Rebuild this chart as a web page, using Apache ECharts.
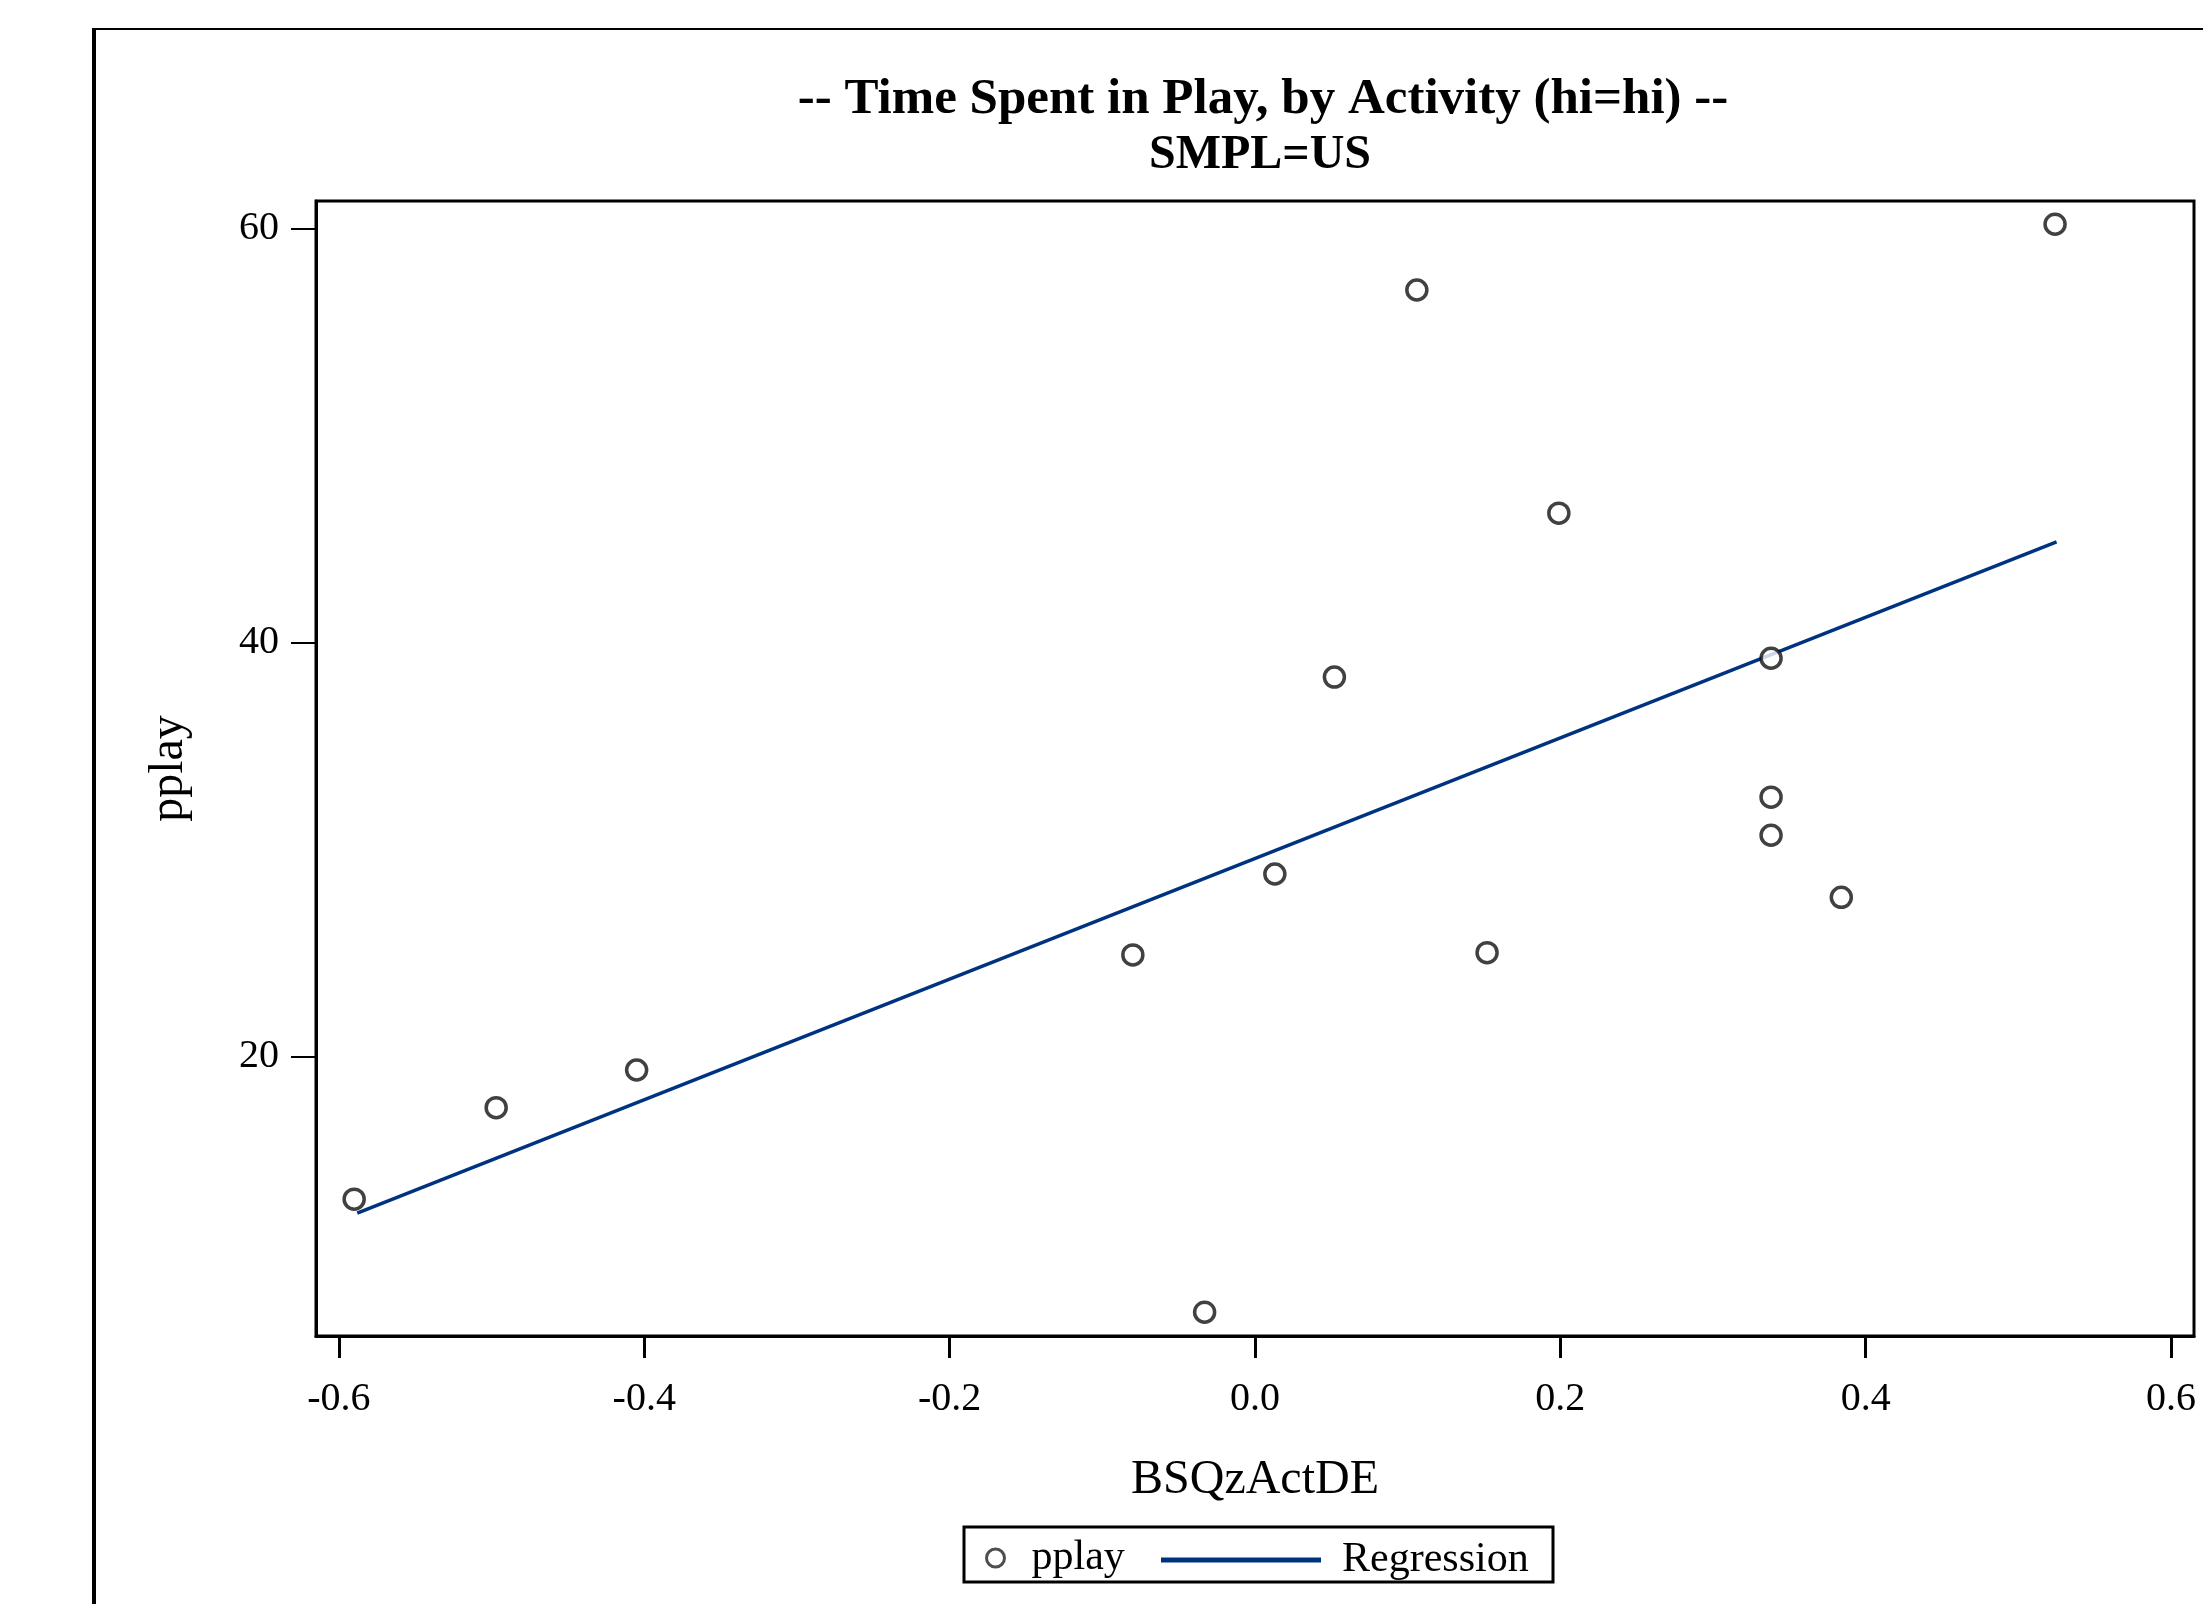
<!DOCTYPE html>
<html>
<head>
<meta charset="utf-8">
<script src="https://cdn.jsdelivr.net/npm/echarts@6/dist/echarts.min.js"></script>
<style>
html,body{margin:0;padding:0;background:#fff;}
#chart{width:2203px;height:1604px;}
</style>
</head>
<body>
<div id="chart"></div>
<script>
// ---- data ----
const titleText = '-- Time Spent in Play, by Activity (hi=hi) --';
const subTitleText = 'SMPL=US';
const xName = 'BSQzActDE';
const yName = 'pplay';
const pointX = [-0.590, -0.497, -0.405, -0.080, -0.033, 0.013, 0.052, 0.106, 0.152, 0.199, 0.338, 0.338, 0.338, 0.384, 0.524];
const pointY = [13.13, 17.55, 19.37, 24.93, 7.67, 28.84, 38.35, 57.05, 25.04, 46.27, 39.26, 32.55, 30.71, 27.71, 60.23];
const regX = [-0.588, 0.525];
const regY = [12.45, 44.88];
const xTicks = [-0.6, -0.4, -0.2, 0.0, 0.2, 0.4, 0.6];
const yTicks = [20, 40, 60];

const FONT = "'Liberation Serif', 'Times New Roman', serif";
const NAVY = '#00337f';

const scatterData = pointX.map((x, i) => [x, pointY[i]]);
const regData = regX.map((x, i) => [x, regY[i]]);

const chart = echarts.init(document.getElementById('chart'));
chart.setOption({
  backgroundColor: '#fff',
  animation: false,
  textStyle: { fontFamily: FONT, color: '#000' },
  title: [
    { text: titleText, left: 1258, top: 69, textAlign: 'center',
      textStyle: { fontFamily: FONT, fontSize: 51, fontWeight: 'bold', color: '#000' } },
    { text: subTitleText, left: 1255, top: 127, textAlign: 'center',
      textStyle: { fontFamily: FONT, fontSize: 48, fontWeight: 'bold', color: '#000' } }
  ],
  grid: { left: 316, top: 201, width: 1878, height: 1135, show: true,
          borderColor: '#000', borderWidth: 3, backgroundColor: '#fff' },
  xAxis: {
    type: 'value', min: -0.615, max: 0.615,
    name: xName, nameLocation: 'middle', nameGap: 120,
    nameTextStyle: { fontFamily: FONT, fontSize: 48, color: '#000' },
    axisLine: { show: true, onZero: false, lineStyle: { color: '#000', width: 3 } },
    axisTick: { show: true, length: 22, customValues: xTicks, lineStyle: { color: '#000', width: 3 } },
    axisLabel: { customValues: xTicks, margin: 43, fontFamily: FONT, fontSize: 40, color: '#000',
                 formatter: v => (Math.abs(v) < 1e-9 ? 0 : v).toFixed(1) },
    splitLine: { show: false }
  },
  yAxis: {
    type: 'value', min: 6.52, max: 61.35,
    name: yName, nameLocation: 'middle', nameGap: 123, nameRotate: 90,
    nameTextStyle: { fontFamily: FONT, fontSize: 48, color: '#000' },
    axisLine: { show: true, onZero: false, lineStyle: { color: '#000', width: 3 } },
    axisTick: { show: true, length: 25, customValues: yTicks, lineStyle: { color: '#000', width: 2 } },
    axisLabel: { customValues: yTicks, margin: 37, fontFamily: FONT, fontSize: 40, color: '#000' },
    splitLine: { show: false }
  },
  legend: [
    { data: ['pplay'], left: 985, top: 1531, padding: 0, icon: 'circle',
      itemWidth: 18, itemHeight: 18,
      itemStyle: { color: '#fff', borderColor: '#222', borderWidth: 3 },
      textStyle: { fontFamily: FONT, fontSize: 42, color: '#000', padding: [8, 0, 0, 22], lineHeight: 46 } },
    { data: ['Regression'], left: 1161, top: 1534, padding: 0, icon: 'rect',
      itemWidth: 160, itemHeight: 5,
      itemStyle: { color: NAVY, borderWidth: 0 },
      textStyle: { fontFamily: FONT, fontSize: 42, color: '#000', padding: [6, 0, 0, 16], lineHeight: 46 } }
  ],
  graphic: [
    { type: 'line', shape: { x1: 94, y1: 29, x2: 94, y2: 1604 }, style: { stroke: '#000', lineWidth: 4 } },
    { type: 'line', shape: { x1: 92, y1: 29, x2: 2203, y2: 29 }, style: { stroke: '#000', lineWidth: 2 } },
    { type: 'rect', shape: { x: 964, y: 1527, width: 589, height: 55 },
      style: { fill: 'none', stroke: '#000', lineWidth: 3 } }
  ],
  series: [
    { name: 'pplay', type: 'scatter', data: scatterData, symbol: 'circle', symbolSize: 20,
      itemStyle: { color: '#fff', borderColor: '#111', borderWidth: 3.5 }, z: 3 },
    { name: 'Regression', type: 'line', data: regData, symbol: 'none',
      lineStyle: { color: NAVY, width: 3.5 }, itemStyle: { color: NAVY }, z: 2 }
  ]
});
</script>
</body>
</html>
